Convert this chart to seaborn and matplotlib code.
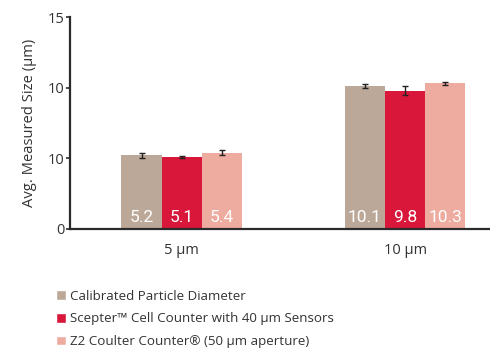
import matplotlib
matplotlib.use("Agg")
import matplotlib.pyplot as plt
import seaborn as sns
import pandas as pd

# Data
particle_sizes = ["5 µm", "10 µm"]
methods = [
    "Calibrated Particle Diameter",
    "Scepter™ Cell Counter with 40 µm Sensors",
    "Z2 Coulter Counter® (50 µm aperture)",
]
calibrated = [5.2, 10.1]
scepter = [5.1, 9.8]
coulter = [5.4, 10.3]
calibrated_err = [0.2, 0.15]
scepter_err = [0.05, 0.35]
coulter_err = [0.17, 0.1]
y_ticks = [0, 5, 10, 15]
y_tick_labels = ["0", "10", "10", "15"]

colors = ["#bba898", "#d8173b", "#eeaca0"]

rows = []
for m, vals, errs in zip(methods, [calibrated, scepter, coulter],
                         [calibrated_err, scepter_err, coulter_err]):
    for s, v, e in zip(particle_sizes, vals, errs):
        rows.append({"size": s, "method": m, "value": v, "err": e})
df = pd.DataFrame(rows)

sns.set_style("white")
plt.rcParams["font.family"] = ["Open Sans", "DejaVu Sans"]

fig = plt.figure(figsize=(4.9, 3.5), dpi=100)
ax = fig.add_axes([0.143, 0.346, 0.857, 0.605])

sns.barplot(data=df, x="size", y="value", hue="method", order=particle_sizes,
            hue_order=methods, palette=colors, width=0.54, errorbar=None,
            saturation=1, ax=ax, legend=True)

text_color = "#333333"
for container, m in zip(ax.containers, methods):
    sub = df[df["method"] == m].set_index("size").loc[particle_sizes]
    for bar, v, e in zip(container, sub["value"], sub["err"]):
        bar.set_edgecolor("none")
        cx = bar.get_x() + bar.get_width() / 2
        ax.errorbar(cx, v, yerr=e, fmt="none", ecolor="#222222",
                    elinewidth=1.0, capsize=2.5, capthick=1.0)
        ax.text(cx, 0.3, f"{v:g}", ha="center", va="bottom", color="white",
                fontsize=12.5, fontweight="normal",
                fontfamily=["Roboto", "DejaVu Sans"])

ax.set_xlim(-0.5, 1.38)
ax.set_ylim(0, 15)
ax.set_yticks(y_ticks)
ax.set_yticklabels(y_tick_labels)
ax.set_xlabel("")
ax.set_ylabel("Avg. Measured Size (µm)", fontsize=10.6, color=text_color, labelpad=8)

for side in ["top", "right"]:
    ax.spines[side].set_visible(False)
for side in ["left", "bottom"]:
    ax.spines[side].set_color("#2b2b2b")
    ax.spines[side].set_linewidth(1.6)

ax.tick_params(axis="y", direction="out", length=3, width=1.2, color="#2b2b2b",
               labelsize=10.5, labelcolor=text_color, pad=1, left=True)
ax.tick_params(axis="x", length=0, labelsize=10.5, labelcolor=text_color, pad=10)

handles, labels = ax.get_legend_handles_labels()
ax.get_legend().remove()
fig.legend(handles, labels, loc="upper left", bbox_to_anchor=(0.104, 0.187),
           frameon=False, fontsize=9.6, handlelength=0.75, handleheight=0.75,
           handletextpad=0.25, labelspacing=0.72, borderaxespad=0,
           labelcolor=text_color)

fig.savefig("out.png", dpi=100)
